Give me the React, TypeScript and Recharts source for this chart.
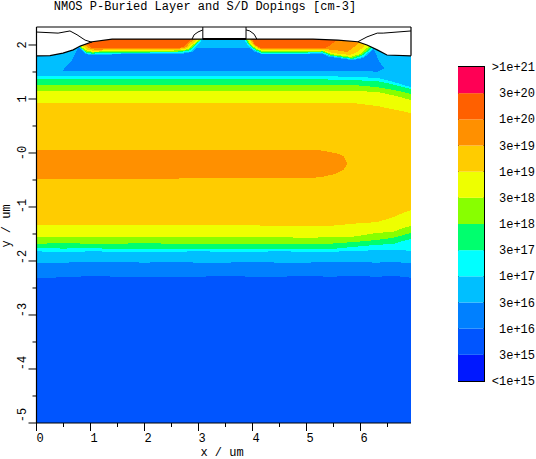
import React from "react";
import { ComposedChart, BarChart, Area, Bar, Line, XAxis, YAxis, ReferenceArea, Customized } from "recharts";

const FONT = '"Liberation Mono", monospace';
const TITLE = "NMOS P-Buried Layer and S/D Dopings [cm-3]";
const X_TOP = 6.935;
const Y_TOP = 2.3333;

const C = {
  crimson: "#FF0055", red: "#FF6000", orange: "#FF9000", amber: "#FFCC00", yellow: "#EEFF00", lime: "#88FF00",
  green: "#00FF6E", cyan: "#00FFFF", sky: "#00BFFF", azure: "#0080FF", blue: "#0055FF", deep: "#0018FF",
};

const legendColors = [C.deep, C.blue, C.azure, C.sky, C.cyan, C.green, C.lime, C.yellow, C.amber, C.orange, C.red, C.crimson];
const legendLabels = ["<1e+15", "3e+15", "1e+16", "3e+16", "1e+17", "3e+17", "1e+18", "3e+18", "1e+19", "3e+19", "1e+20", "3e+20", ">1e+21"];

const xMinor = [0, 0.5, 1, 1.5, 2, 2.5, 3, 3.5, 4, 4.5, 5, 5.5, 6, 6.5];
const yMinor = [-5, -4.5, -4, -3.5, -3, -2.5, -2, -1.5, -1, -0.5, 0, 0.5, 1, 1.5, 2];
const yLabelShift: Record<string, number> = { "-5": -8, "-4": -6, "-3": -5, "-2": -4, "-1": -1 };

const xGrid = [0, 0.5, 1, 1.5, 2, 2.5, 3, 3.5, 4, 4.5, 5, 5.44, 5.86, 6.31, 6.6, 6.79, 6.935];
const lowAmber = [-1.34, -1.34, -1.34, -1.34, -1.34, -1.34, -1.34, -1.34, -1.34, -1.35, -1.35, -1.35, -1.31, -1.28, -1.19, -1.11, -1.06];
const lowYellow = [-1.56, -1.55, -1.56, -1.55, -1.56, -1.56, -1.56, -1.56, -1.56, -1.56, -1.57, -1.56, -1.55, -1.48, -1.46, -1.39, -1.35];
const lowLime = [-1.68, -1.67, -1.68, -1.68, -1.67, -1.68, -1.68, -1.69, -1.68, -1.68, -1.68, -1.68, -1.65, -1.61, -1.57, -1.52, -1.48];
const lowGreen = [-1.76, -1.77, -1.76, -1.78, -1.77, -1.77, -1.78, -1.77, -1.78, -1.77, -1.77, -1.78, -1.74, -1.7, -1.685, -1.63, -1.59];
const lowCyan = [-1.82, -1.84, -1.82, -1.83, -1.83, -1.83, -1.82, -1.83, -1.83, -1.82, -1.83, -1.83, -1.815, -1.8, -1.8, -1.8, -1.815];
const lowSky = [-2.03, -2.03, -2.02, -2.02, -2.03, -2.02, -2.03, -2.03, -2.02, -2.03, -2.03, -2.02, -2.02, -2.03, -2.02, -2.03, -2.04];
const lowAzure = [-2.32, -2.3, -2.28, -2.29, -2.29, -2.3, -2.29, -2.28, -2.29, -2.29, -2.28, -2.29, -2.28, -2.29, -2.28, -2.29, -2.31];
const upYellow = [0.93, 0.93, 0.93, 0.93, 0.93, 0.93, 0.93, 0.93, 0.93, 0.93, 0.93, 0.93, 0.925, 0.87, 0.81, 0.77, 0.74];
const upLime = [1.15, 1.15, 1.15, 1.15, 1.15, 1.15, 1.15, 1.15, 1.15, 1.15, 1.15, 1.15, 1.15, 1.13, 1.07, 1.02, 0.98];
const upGreen = [1.26, 1.26, 1.26, 1.26, 1.26, 1.26, 1.26, 1.26, 1.26, 1.26, 1.26, 1.26, 1.26, 1.22, 1.17, 1.13, 1.09];
const upCyan = [1.37, 1.37, 1.37, 1.37, 1.37, 1.37, 1.37, 1.37, 1.37, 1.37, 1.37, 1.36, 1.35, 1.33, 1.27, 1.22, 1.185];
const upSky = [1.425, 1.425, 1.425, 1.425, 1.425, 1.425, 1.425, 1.425, 1.425, 1.425, 1.425, 1.42, 1.41, 1.39, 1.32, 1.26, 1.22];

type P = [number, number];
type R = [number, number, number];

// pocket and lens: [x, low, high]
const azurePocket: R[] = [[0.49, 1.52, 1.52], [0.53, 1.52, 1.59], [0.66, 1.52, 1.72], [0.72, 1.52, 1.85], [0.77, 1.52, 1.95], [6.23, 1.51, 1.95], [6.3, 1.5, 1.8], [6.36, 1.53, 1.67], [6.45, 1.57, 1.57]];
const orangeLens: R[] = [[0, -0.48, 0.055], [1.5, -0.48, 0.06], [3, -0.47, 0.055], [4.88, -0.47, 0.055], [5.25, -0.45, 0.05], [5.53, -0.39, 0], [5.69, -0.31, -0.055], [5.75, -0.2, -0.19]];

const sourceSky: P[] = [[0.77, 1.96], [0.9, 1.84], [1.03, 1.805], [1.42, 1.825], [2.05, 1.83], [2.66, 1.83], [2.88, 1.87], [2.99, 1.98], [3.1, 2.09], [3.14, 2.13]];
const sourceCyan: P[] = [[0.78, 1.97], [0.91, 1.85], [1.02, 1.825], [1.42, 1.84], [2.05, 1.85], [2.66, 1.85], [2.86, 1.88], [2.97, 1.99], [3.08, 2.11]];
const sourceGreen: P[] = [[0.79, 1.97], [0.92, 1.86], [1.03, 1.84], [1.42, 1.86], [2.05, 1.86], [2.66, 1.87], [2.84, 1.9], [2.95, 2], [3.06, 2.11]];
const sourceLime: P[] = [[0.8, 1.97], [0.92, 1.87], [1.03, 1.86], [1.42, 1.87], [2.05, 1.87], [2.66, 1.88], [2.82, 1.91], [2.94, 2.01], [3.05, 2.11]];
const sourceYellow: P[] = [[0.81, 1.98], [0.94, 1.89], [1.05, 1.875], [1.42, 1.89], [2.05, 1.89], [2.66, 1.9], [2.81, 1.925], [2.92, 2.02], [3.03, 2.11]];
const sourceAmber: P[] = [[0.84, 1.99], [0.95, 1.91], [1.07, 1.89], [1.42, 1.91], [2.05, 1.91], [2.66, 1.915], [2.79, 1.94], [2.88, 2.02], [2.99, 2.11]];
const sourceOrange: P[] = [[0.88, 2.01], [0.99, 1.93], [1.1, 1.91], [1.42, 1.925], [2.05, 1.925], [2.66, 1.935], [2.77, 1.96], [2.84, 2.04], [2.94, 2.11]];
const sourceRed: P[] = [[0.92, 2.03], [1.01, 1.95], [1.12, 1.935], [1.42, 1.94], [2.05, 1.94], [2.66, 1.95], [2.75, 1.98], [2.82, 2.06], [2.88, 2.11]];

const drainSky: P[] = [[3.82, 2.13], [3.86, 2.09], [3.9, 1.98], [4.03, 1.88], [4.19, 1.825], [4.69, 1.825], [5.29, 1.84], [5.42, 1.78], [5.86, 1.72], [6.06, 1.76], [6.19, 1.87], [6.27, 1.96]];
const drainCyan: P[] = [[3.84, 2.11], [3.92, 1.99], [4.05, 1.89], [4.19, 1.83], [4.69, 1.83], [5.29, 1.85], [5.44, 1.8], [5.86, 1.73], [6.05, 1.78], [6.18, 1.89], [6.25, 1.96]];
const drainGreen: P[] = [[3.86, 2.11], [3.94, 2], [4.06, 1.9], [4.19, 1.85], [4.69, 1.85], [5.29, 1.87], [5.44, 1.805], [5.86, 1.74], [6.03, 1.8], [6.16, 1.9], [6.23, 1.97]];
const drainLime: P[] = [[3.88, 2.11], [3.95, 2], [4.08, 1.91], [4.19, 1.87], [4.69, 1.87], [5.31, 1.88], [5.45, 1.815], [5.84, 1.76], [6.01, 1.815], [6.14, 1.91], [6.21, 1.98]];
const drainYellow: P[] = [[3.9, 2.11], [3.97, 2], [4.1, 1.915], [4.19, 1.89], [4.69, 1.89], [5.31, 1.89], [5.47, 1.83], [5.82, 1.78], [5.99, 1.83], [6.1, 1.925], [6.18, 2]];
const drainAmber: P[] = [[3.94, 2.11], [4.01, 2], [4.12, 1.925], [4.19, 1.91], [4.69, 1.91], [5.31, 1.91], [5.49, 1.85], [5.81, 1.815], [5.94, 1.87], [6.05, 1.96], [6.1, 2.04]];
const drainOrange: P[] = [[3.96, 2.11], [4.03, 2], [4.14, 1.935], [4.19, 1.925], [4.69, 1.925], [5.31, 1.925], [5.51, 1.91], [5.75, 1.87], [5.84, 1.925], [5.95, 2.03], [5.99, 2.06]];
const drainRed: P[] = [[3.99, 2.11], [4.05, 2], [4.14, 1.95], [4.19, 1.94], [4.69, 1.94], [5.34, 1.94], [5.45, 2], [5.53, 2.07], [5.62, 2.09]];

const surface: P[] = [[0, 1.8], [0.25, 1.805], [0.49, 1.85], [0.68, 1.91], [0.81, 1.98], [1.03, 2.06], [1.4, 2.11], [5.12, 2.11], [5.58, 2.09], [5.95, 2.06], [6.12, 2], [6.31, 1.91], [6.49, 1.815], [6.935, 1.8]];
const oxideLeft: P[] = [[0, 2.24], [0.4, 2.22], [0.62, 2.26], [0.75, 2.19], [0.9, 2.09], [1.03, 2.05]];
const oxideRight: P[] = [[5.95, 2.06], [6.12, 2.15], [6.31, 2.22], [6.42, 2.22], [6.935, 2.26]];
const frameTop: P[] = [[0, Y_TOP], [X_TOP, Y_TOP]];
const frameRight: P[] = [[X_TOP, Y_TOP], [X_TOP, 1.8]];
const gateLeft: P[] = [[3.08, Y_TOP], [3.08, 2.11]];
const gateRight: P[] = [[3.88, Y_TOP], [3.88, 2.11]];
const arcLeft: P[] = [[3.08, 2.28], [2.99, 2.24], [2.92, 2.19], [2.88, 2.11]];
const arcRight: P[] = [[3.88, 2.28], [3.95, 2.26], [4.03, 2.2], [4.08, 2.11]];
const gateBar: P[] = [[3.08, 2.11], [3.88, 2.11]];

const floorRows = (vals: number[]) => xGrid.map((x, i) => ({ x, band: [vals[i], Y_TOP] }));
const pairRows = (pts: P[]) => pts.map(([x, y]) => ({ x, band: [y, Y_TOP] }));
const rangeRows = (pts: R[]) => pts.map(([x, lo, hi]) => ({ x, band: [lo, hi] }));
const lineRows = (pts: P[]) => pts.map(([x, y]) => ({ x, y }));

const layers: { rows: any[]; fill: string }[] = [
  { rows: floorRows(xGrid.map(() => -5)), fill: C.blue },
  { rows: floorRows(lowAzure), fill: C.azure },
  { rows: floorRows(lowSky), fill: C.sky },
  { rows: floorRows(lowCyan), fill: C.cyan },
  { rows: floorRows(lowGreen), fill: C.green },
  { rows: floorRows(lowLime), fill: C.lime },
  { rows: floorRows(lowYellow), fill: C.yellow },
  { rows: floorRows(lowAmber), fill: C.amber },
  { rows: floorRows(upYellow), fill: C.yellow },
  { rows: floorRows(upLime), fill: C.lime },
  { rows: floorRows(upGreen), fill: C.green },
  { rows: floorRows(upCyan), fill: C.cyan },
  { rows: floorRows(upSky), fill: C.sky },
  { rows: rangeRows(azurePocket), fill: C.azure },
  { rows: rangeRows(orangeLens), fill: C.orange },
  { rows: pairRows(sourceSky), fill: C.sky },
  { rows: pairRows(sourceCyan), fill: C.cyan },
  { rows: pairRows(sourceGreen), fill: C.green },
  { rows: pairRows(sourceLime), fill: C.lime },
  { rows: pairRows(sourceYellow), fill: C.yellow },
  { rows: pairRows(sourceAmber), fill: C.amber },
  { rows: pairRows(sourceOrange), fill: C.orange },
  { rows: pairRows(sourceRed), fill: C.red },
  { rows: pairRows(drainSky), fill: C.sky },
  { rows: pairRows(drainCyan), fill: C.cyan },
  { rows: pairRows(drainGreen), fill: C.green },
  { rows: pairRows(drainLime), fill: C.lime },
  { rows: pairRows(drainYellow), fill: C.yellow },
  { rows: pairRows(drainAmber), fill: C.amber },
  { rows: pairRows(drainOrange), fill: C.orange },
  { rows: pairRows(drainRed), fill: C.red },
  { rows: pairRows(surface), fill: "#FFFFFF" },
];

const outlines: { pts: P[]; w: number }[] = [
  { pts: surface, w: 1.2 },
  { pts: oxideLeft, w: 1 },
  { pts: oxideRight, w: 1 },
  { pts: frameTop, w: 1.2 },
  { pts: frameRight, w: 1.2 },
  { pts: gateLeft, w: 1 },
  { pts: gateRight, w: 1 },
  { pts: arcLeft, w: 1 },
  { pts: arcRight, w: 1 },
  { pts: gateBar, w: 2 },
];

const XTick = (p: any) => {
  const v = p.payload.value;
  const major = Number.isInteger(v);
  return (
    <g>
      <line x1={p.x} x2={p.x} y1={p.y} y2={p.y + (major ? 8 : 4)} stroke="#000" />
      {major && (
        <text x={p.x} y={p.y + 19} fontFamily={FONT} fontSize={12} fill="#000">
          {String(v)}
        </text>
      )}
    </g>
  );
};

const YTick = (p: any) => {
  const v = p.payload.value;
  const major = Number.isInteger(v);
  const label = v === 0 ? "-0" : String(v);
  const cy = p.y + (yLabelShift[label] ?? 0);
  return (
    <g>
      <line x1={p.x} x2={p.x - (major ? 8 : 4)} y1={p.y} y2={p.y} stroke="#000" />
      {major && (
        <text
          transform={`translate(${p.x - 11},${cy}) rotate(-90)`}
          textAnchor="middle"
          fontFamily={FONT}
          fontSize={12}
          fill="#000"
        >
          {label}
        </text>
      )}
    </g>
  );
};

const LegendTick = (p: any) => {
  const label = legendLabels[p.payload.value];
  return (
    <text x={p.x + 51} y={p.y + 4} textAnchor="end" fontFamily={FONT} fontSize={12} fill="#000">
      {label}
    </text>
  );
};

const legendRow: Record<string, any> = { name: "scale" };
legendColors.forEach((_, i) => {
  legendRow[`c${i}`] = 1;
});
const legendTicks = legendLabels.map((_, i) => i);

const Titles = () => (
  <g fontFamily={FONT} fontSize={12} fill="#000">
    <text x={205} y={10} textAnchor="middle">{TITLE}</text>
    <text x={222} y={455.5} textAnchor="middle">x / um</text>
    <text transform="translate(10,226) rotate(-90)" textAnchor="middle">y / um</text>
  </g>
);

export default function App() {
  return (
    <div style={{ position: "absolute", left: 0, top: 0, width: 536, height: 459, background: "#fff", overflow: "hidden" }}>
      <div style={{ position: "absolute", left: 0, top: 0 }}>
        <ComposedChart width={536} height={459} margin={{ top: 27, right: 125, bottom: 0, left: 0 }}>
          <XAxis
            type="number"
            dataKey="x"
            domain={[0, X_TOP]}
            ticks={xMinor}
            interval={0}
            height={36}
            tickLine={false}
            tickSize={0}
            tickMargin={0}
            tick={<XTick />}
            axisLine={{ stroke: "#000", strokeWidth: 1.2 }}
          />
          <YAxis
            type="number"
            domain={[-5, Y_TOP]}
            ticks={yMinor}
            interval={0}
            width={36.5}
            tickLine={false}
            tickSize={0}
            tickMargin={0}
            tick={<YTick />}
            axisLine={{ stroke: "#000", strokeWidth: 1.2 }}
          />
          {layers.map((l, i) => (
            <Area
              key={i}
              data={l.rows}
              dataKey="band"
              type="linear"
              fill={l.fill}
              fillOpacity={1}
              stroke="none"
              dot={false}
              activeDot={false}
              shapeRendering="crispEdges"
              isAnimationActive={false}
            />
          ))}
          {outlines.map((o, i) => (
            <Line
              key={i}
              data={lineRows(o.pts)}
              dataKey="y"
              type="linear"
              stroke="#000"
              strokeWidth={o.w}
              dot={false}
              activeDot={false}
              isAnimationActive={false}
            />
          ))}
          <Customized component={Titles} />
        </ComposedChart>
      </div>
      <div style={{ position: "absolute", left: 458, top: 57 }}>
        <BarChart
          width={78}
          height={334}
          data={[legendRow]}
          margin={{ top: 10, right: 0, bottom: 10, left: 0 }}
          barCategoryGap={0}
          barGap={0}
        >
          <XAxis dataKey="name" hide />
          <YAxis
            orientation="right"
            type="number"
            domain={[0, 12]}
            ticks={legendTicks}
            interval={0}
            width={52}
            axisLine={false}
            tickLine={false}
            tickSize={0}
            tickMargin={0}
            tick={<LegendTick />}
          />
          {legendColors.map((c, i) => (
            <Bar key={i} dataKey={`c${i}`} stackId="s" fill={c} isAnimationActive={false} />
          ))}
          <ReferenceArea y1={0} y2={12} fill="none" stroke="#000" strokeWidth={2} ifOverflow="visible" />
        </BarChart>
      </div>
    </div>
  );
}
